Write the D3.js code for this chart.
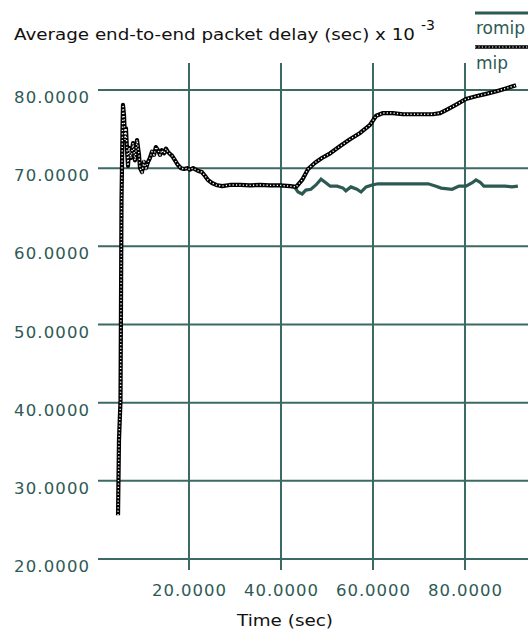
<!DOCTYPE html>
<html><head><meta charset="utf-8">
<script src="https://cdn.jsdelivr.net/npm/d3@7"></script>
<style>html,body{margin:0;padding:0;background:#fff;}svg{display:block;}</style>
</head><body><div id="chart"></div>
<script>
const yTicks = [20, 30, 40, 50, 60, 70, 80];
const xTicks = [20, 40, 60, 80];
const seriesNames = ["romip", "mip"];
const mipT = [4.57,4.78,5.11,5.22,5.33,5.54,5.65,5.87,6.09,6.3,6.52,6.74,6.96,7.39,7.83,8.26,8.7,9.13,9.35,9.78,10.2,10.65,11.1,11.5,11.96,12.4,12.8,13.26,13.7,14.1,14.6,15.0,15.4,15.9,16.3,16.96,17.6,18.26,18.9,19.6,20.2,20.9,21.5,22.2,22.8,23.5,24.1,25.0,25.9,27.2,28.9,31.1,33.3,35.4,37.6,39.8,42.0,43.3,44.6,45.9,47.4,48.9,50.7,52.8,55.0,57.2,59.3,60.7,62.2,64.3,66.5,68.7,70.9,73.0,74.6,76.1,78.0,80.2,82.4,84.6,86.7,88.9,91.1];
const mipV = [25.6,35.2,40.3,53.1,65.9,74.9,78.1,76.8,73.6,75.1,72.3,70.3,72.6,71.3,73.2,71.0,73.6,71.7,70.0,69.5,70.8,70.0,70.8,71.3,72.1,71.7,72.7,72.3,71.7,72.3,71.9,72.5,72.1,71.8,71.6,71.0,70.4,70.0,69.9,70.0,69.8,70.0,69.8,69.6,69.5,69.0,68.5,68.1,67.85,67.7,67.85,67.85,67.8,67.85,67.8,67.8,67.7,67.6,68.5,69.9,70.7,71.3,71.9,72.8,73.7,74.5,75.5,76.7,77.05,77.05,76.9,76.9,76.9,76.9,77.05,77.5,78.1,78.85,79.2,79.5,79.8,80.2,80.6];
const romipT = [42.8,43.7,44.6,45.4,46.5,47.6,48.7,49.6,50.7,52.2,53.5,54.1,55.2,56.5,57.4,58.5,59.8,61.1,63.3,65.4,68.0,72.0,73.7,74.8,77.2,78.7,80.2,81.5,82.4,83.3,84.1,85.9,88.7,90.2,91.5];
const romipV = [67.7,66.95,66.7,67.2,67.3,67.85,68.6,68.2,67.7,67.7,67.45,67.1,67.6,67.3,66.95,67.6,67.85,68.0,68.0,68.0,68.0,68.0,67.7,67.45,67.3,67.7,67.7,68.1,68.5,68.2,67.7,67.7,67.7,67.6,67.7];

const W = 528, H = 632;
const teal = "#2c5a53", grid = "#3b6a63", labelCol = "#2e5a55";
const font = "'DejaVu Sans', Verdana, sans-serif";
const svg = d3.select("#chart").append("svg").attr("width", W).attr("height", H);

const x = d3.scaleLinear().domain([0, 93.7]).range([97, 528]);
const y = d3.scaleLinear().domain([20, 80]).range([559, 90]);

svg.append("g").selectAll("line").data(yTicks).join("line")
  .attr("x1", 98).attr("x2", W).attr("y1", d => y(d)).attr("y2", d => y(d))
  .attr("stroke", grid).attr("stroke-width", 2);
svg.append("g").selectAll("line").data(xTicks).join("line")
  .attr("x1", d => x(d)).attr("x2", d => x(d)).attr("y1", 63).attr("y2", 570)
  .attr("stroke", grid).attr("stroke-width", 2);

svg.append("g").selectAll("text").data(yTicks).join("text")
  .attr("x", 89).attr("y", d => y(d) + 13).attr("text-anchor", "end")
  .attr("font-family", font).attr("font-size", 16.5).attr("fill", labelCol)
  .attr("textLength", 75).attr("lengthAdjust", "spacing")
  .text(d => d3.format(".4f")(d));
svg.append("g").selectAll("text").data(xTicks).join("text")
  .attr("x", d => x(d)).attr("y", 596).attr("text-anchor", "middle")
  .attr("font-family", font).attr("font-size", 16.5).attr("fill", labelCol)
  .attr("textLength", 74).attr("lengthAdjust", "spacing")
  .text(d => d3.format(".4f")(d));

svg.append("text").attr("x", 285).attr("y", 626).attr("text-anchor", "middle")
  .attr("font-family", font).attr("font-size", 16).attr("fill", "#111")
  .attr("textLength", 96).attr("lengthAdjust", "spacingAndGlyphs").text("Time (sec)");

svg.append("text").attr("x", 14).attr("y", 40)
  .attr("font-family", font).attr("font-size", 16).attr("fill", "#111")
  .attr("textLength", 401).attr("lengthAdjust", "spacingAndGlyphs")
  .text("Average end-to-end packet delay (sec) x 10");
svg.append("text").attr("x", 421).attr("y", 30)
  .attr("font-family", font).attr("font-size", 14).attr("fill", "#111").text("-3");

const line = d3.line().x(d => x(d[0])).y(d => y(d[1]));
const romip = romipT.map((t, i) => [t, romipV[i]]);
const mip = mipT.map((t, i) => [t, mipV[i]]);

svg.append("path").datum(romip).attr("d", line).attr("fill", "none")
  .attr("stroke", teal).attr("stroke-width", 3.2).attr("stroke-linejoin", "miter");

svg.append("path").datum(mip).attr("d", line).attr("fill", "none")
  .attr("stroke", "#000").attr("stroke-width", 4.2).attr("stroke-linejoin", "round");
svg.append("path").datum(mip).attr("d", line).attr("fill", "none")
  .attr("stroke", "#fff").attr("stroke-width", 1.4).attr("stroke-dasharray", "1.2,2.2");

svg.append("line").attr("x1", 475).attr("x2", W).attr("y1", 13).attr("y2", 13)
  .attr("stroke", teal).attr("stroke-width", 3);
svg.append("text").attr("x", 476).attr("y", 34).attr("font-family", font)
  .attr("font-size", 17).attr("fill", teal).text(seriesNames[0]);
const lg = d3.line()([[475, 47], [W, 47]]);
svg.append("path").attr("d", lg).attr("stroke", "#000").attr("stroke-width", 3.5);
svg.append("path").attr("d", lg).attr("stroke", "#fff").attr("stroke-width", 1.2).attr("stroke-dasharray", "1.2,2.2");
svg.append("text").attr("x", 476).attr("y", 69).attr("font-family", font)
  .attr("font-size", 17).attr("fill", teal).text(seriesNames[1]);
</script></body></html>
